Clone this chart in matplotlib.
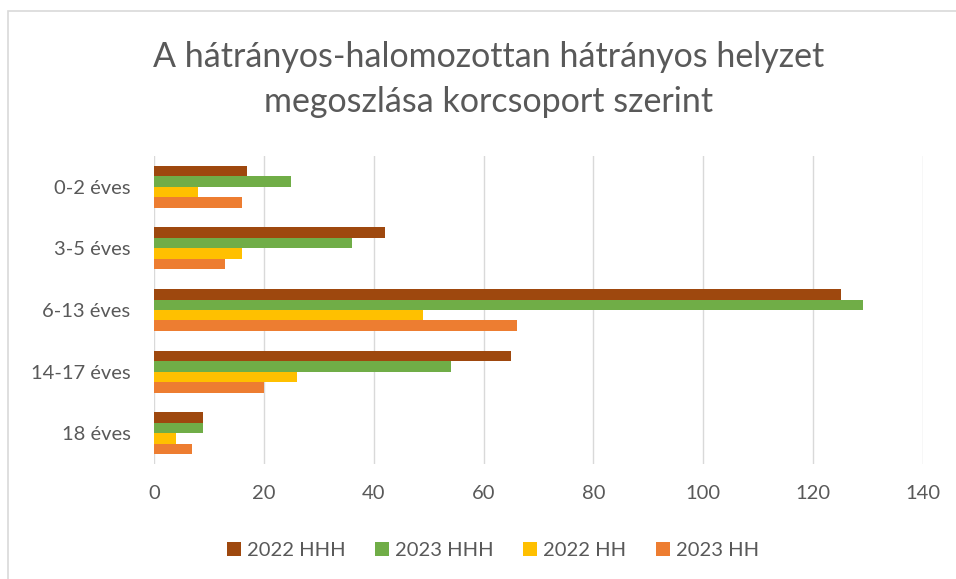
'''Hátrányos helyzet megoszlása korcsoport szerint - grouped horizontal bars'''
import matplotlib
matplotlib.use('Agg')
import matplotlib.pyplot as plt
from matplotlib.patches import Rectangle
import numpy as np

categories = ['0-2 éves', '3-5 éves', '6-13 éves', '14-17 éves', '18 éves']
series_names = ['2022 HHH', '2023 HHH', '2022 HH', '2023 HH']
hhh_2022 = [17, 42, 125, 65, 9]
hhh_2023 = [25, 36, 129, 54, 9]
hh_2022 = [8, 16, 49, 26, 4]
hh_2023 = [16, 13, 66, 20, 7]
x_ticks = [0, 20, 40, 60, 80, 100, 120, 140]
title_lines = ['A hátrányos-halomozottan hátrányos helyzet',
               'megoszlása korcsoport szerint']

colors = ['#9E480E', '#70AD47', '#FFC000', '#ED7D31']
text_gray = '#595959'

plt.rcParams['font.family'] = ['Lato', 'DejaVu Sans']

fig = plt.figure(figsize=(9.56, 5.79), dpi=100, facecolor='white')
ax = fig.add_axes([0.1611, 0.1986, 0.8044, 0.532])

values = [hhh_2022, hhh_2023, hh_2022, hh_2023]
n = len(values)
bar_h = 0.17
y = np.arange(len(categories))
for i, (name, vals) in enumerate(zip(series_names, values)):
    offset = (i - (n - 1) / 2) * bar_h
    ax.barh(y + offset, vals, height=bar_h, color=colors[i], label=name,
            zorder=3)

ax.set_ylim(len(categories) - 0.5, -0.5)
ax.set_yticks(y)
ax.set_yticklabels(categories, fontsize=14.5, color=text_gray)
ax.set_xlim(0, 140)
ax.set_xticks(x_ticks)
ax.set_xticklabels([str(t) for t in x_ticks], fontsize=14.5, color=text_gray)
ax.tick_params(axis='y', length=0, pad=17)
ax.tick_params(axis='x', length=0, pad=15)
ax.xaxis.grid(True, color='#D9D9D9', linewidth=1, zorder=0)
for spine in ax.spines.values():
    spine.set_visible(False)

fig.text(0.511, 0.884, title_lines[0], ha='center', va='baseline',
         fontsize=24.5, color=text_gray)
fig.text(0.511, 0.8066, title_lines[1], ha='center', va='baseline',
         fontsize=24.5, color=text_gray)

ax.legend(loc='center', bbox_to_anchor=(0.441, -0.282), ncol=4,
          frameon=False, fontsize=14.5, handlelength=0.7, handleheight=0.7,
          columnspacing=1.45, handletextpad=0.3, labelcolor=text_gray)

fig.patches.append(Rectangle((8 / 956, -0.1), 1.2, 0.981 + 0.1,
                             transform=fig.transFigure, fill=False,
                             edgecolor='#D9D9D9', linewidth=1.2))

fig.savefig('out.png', dpi=100)
